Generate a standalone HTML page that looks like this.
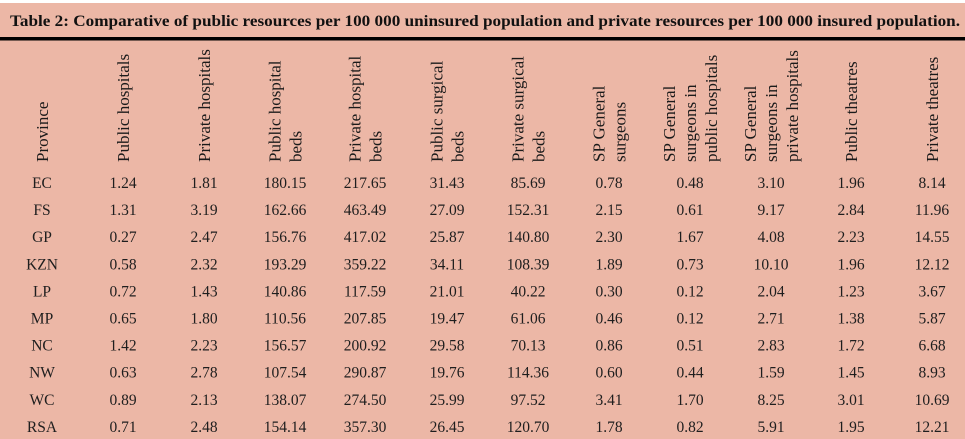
<!DOCTYPE html>
<html><head><meta charset="utf-8"><style>
html,body{margin:0;padding:0;background:#fff;}
svg{display:block;}
text{font-family:"Liberation Serif",serif;}
</style></head><body>
<svg id="tbl" width="965" height="439" viewBox="0 0 965 439" xmlns="http://www.w3.org/2000/svg">
<rect x="0" y="3" width="965" height="436" fill="#ecb7a6"/>
<text x="10" y="26" font-size="16" font-weight="bold" fill="#111" textLength="950" lengthAdjust="spacingAndGlyphs">Table 2: Comparative of public resources per 100 000 uninsured population and private resources per 100 000 insured population.</text>
<rect x="0" y="37" width="965" height="3.5" fill="#000"/>
<g id="hdr"></g>
<g id="body"></g>
</svg>
<script>
const provinces = ["EC","FS","GP","KZN","LP","MP","NC","NW","WC","RSA"];
const headers = [
 ["Province"],["Public hospitals"],["Private hospitals"],["Public hospital","beds"],
 ["Private hospital","beds"],["Public surgical","beds"],["Private surgical","beds"],
 ["SP General","surgeons"],["SP General","surgeons in","public hospitals"],
 ["SP General","surgeons in","private hospitals"],["Public theatres"],["Private theatres"]
];
const rows = [
 ["1.24","1.81","180.15","217.65","31.43","85.69","0.78","0.48","3.10","1.96","8.14"],
 ["1.31","3.19","162.66","463.49","27.09","152.31","2.15","0.61","9.17","2.84","11.96"],
 ["0.27","2.47","156.76","417.02","25.87","140.80","2.30","1.67","4.08","2.23","14.55"],
 ["0.58","2.32","193.29","359.22","34.11","108.39","1.89","0.73","10.10","1.96","12.12"],
 ["0.72","1.43","140.86","117.59","21.01","40.22","0.30","0.12","2.04","1.23","3.67"],
 ["0.65","1.80","110.56","207.85","19.47","61.06","0.46","0.12","2.71","1.38","5.87"],
 ["1.42","2.23","156.57","200.92","29.58","70.13","0.86","0.51","2.83","1.72","6.68"],
 ["0.63","2.78","107.54","290.87","19.76","114.36","0.60","0.44","1.59","1.45","8.93"],
 ["0.89","2.13","138.07","274.50","25.99","97.52","3.41","1.70","8.25","3.01","10.69"],
 ["0.71","2.48","154.14","357.30","26.45","120.70","1.78","0.82","5.91","1.95","12.21"]
];
const NS="http://www.w3.org/2000/svg";
const colX=[42,123,204,285,365,447,528,609,690,771,851,932];
const hdr=document.getElementById('hdr'), body=document.getElementById('body');
headers.forEach((lines,i)=>{
  const n=lines.length, sp=21;
  lines.forEach((ln,j)=>{
    const x=colX[i]-(n-1)*sp/2+j*sp+6;
    const t=document.createElementNS(NS,'text');
    
    
    t.setAttribute('transform','translate('+x+',162) rotate(-90)');
    t.setAttribute('font-size','17');t.setAttribute('fill','#1a1a1a');
    t.textContent=ln;hdr.appendChild(t);
  });
});
provinces.forEach((p,r)=>{
  const y=188+r*27.1;
  const cells=[p].concat(rows[r]);
  cells.forEach((v,c)=>{
    const t=document.createElementNS(NS,'text');
    
    
    t.setAttribute('x',colX[c]);t.setAttribute('y',y);
    t.setAttribute('text-anchor','middle');t.setAttribute('font-size','15.5');
    t.setAttribute('fill','#1e1e1e');
    t.textContent=v;body.appendChild(t);
  });
});
</script>
</body></html>
